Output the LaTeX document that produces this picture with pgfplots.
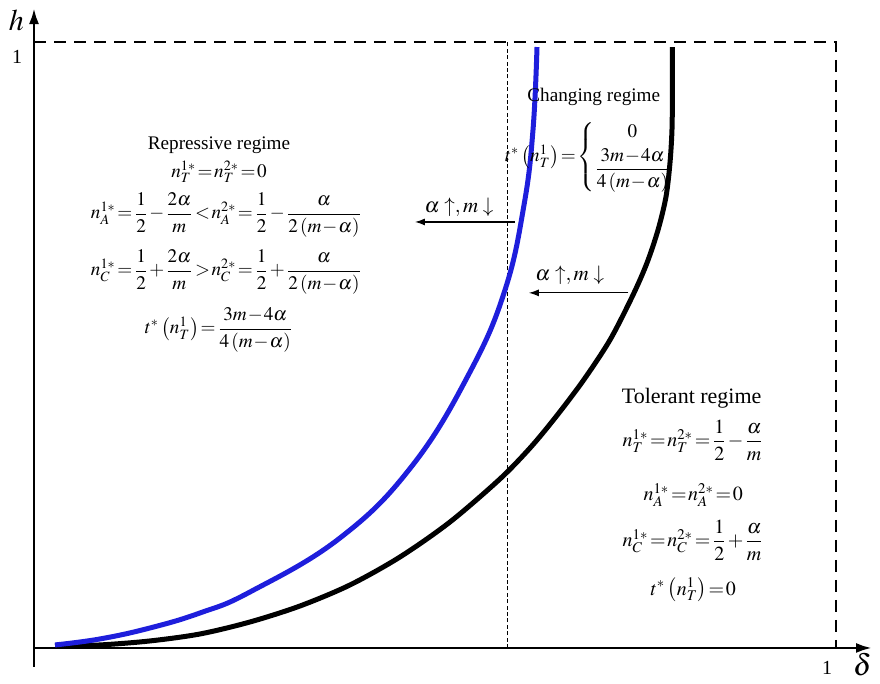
\documentclass[border=0pt]{standalone}
\usepackage{amsmath}
\usepackage{mathptmx}
\usepackage[no-math]{fontspec}
\setmainfont{Liberation Serif}
\usepackage{pgfplots}
\pgfplotsset{compat=1.18}
\usetikzlibrary{arrows.meta}
\definecolor{curveblue}{RGB}{30,30,220}
% tighter math spacing, closer to the equation editor look
\newcommand\tight{\thickmuskip=1.5mu\medmuskip=1mu}

\begin{document}
\begin{tikzpicture}
\begin{axis}[
  x=401pt, y=303pt,
  xmin=-0.0424, xmax=1.0549,
  ymin=-0.0512, ymax=1.0693,
  axis lines=none,
  clip=false,
]
\path (rel axis cs:0,0) rectangle (rel axis cs:1,1);

% bounds h=1 and delta=1, and the dotted reference line
\draw[line width=1.3pt, dash pattern=on 6pt off 4pt]
  (axis cs:0,1) -- (axis cs:1,1) -- (axis cs:1,0);
\draw[line width=0.5pt, dash pattern=on 2pt off 1.2pt]
  (axis cs:0.591,0) -- (axis cs:0.591,1);

% axes
\draw[line width=1.4pt, -{Latex[length=8pt,width=5pt]}]
  (axis cs:0,-0.031) -- (axis cs:0,1.056);
\draw[line width=1.4pt, -{Latex[length=8pt,width=5pt]}]
  (axis cs:0,0) -- (axis cs:1.045,0);
\node[font=\fontsize{10}{12}\selectfont] at (axis cs:-0.021,0.975) {1};
\node[font=\fontsize{10}{12}\selectfont] at (axis cs:0.989,-0.033) {1};
\node[font=\fontsize{15}{18}\selectfont] at (axis cs:-0.022,1.036) {$h$};
\node[font=\fontsize{15}{18}\selectfont] at (axis cs:1.033,-0.028) {$\delta$};

% thresholds
\addplot[black, line width=2.5pt, smooth] coordinates {
  (0.0262,0.0033) (0.0823,0.0050) (0.1446,0.0116) (0.2070,0.0231)
  (0.2693,0.0429) (0.3317,0.0693) (0.3940,0.1040) (0.4564,0.1502)
  (0.5187,0.2079) (0.5810,0.2789) (0.6185,0.3300) (0.6496,0.3795)
  (0.6845,0.4406) (0.7182,0.5083) (0.7469,0.5825) (0.7643,0.6353)
  (0.7781,0.6898) (0.7880,0.7442) (0.7930,0.8003) (0.7955,0.8548)
  (0.7961,0.9208) (0.7961,0.9917)
};
\addplot[curveblue, line width=2.5pt, smooth, tension=0.7] coordinates {
  (0.0262,0.0050) (0.0823,0.0149) (0.1446,0.0330) (0.2070,0.0578)
  (0.2693,0.0924) (0.3815,0.1815) (0.4713,0.3003) (0.5436,0.4554)
  (0.5873,0.5908) (0.6110,0.7310) (0.6222,0.8548) (0.6272,0.9917)
};

% shift arrows
\draw[line width=0.6pt, -{Latex[length=5pt,width=3.5pt]}]
  (axis cs:0.600,0.703) -- (axis cs:0.475,0.703);
\node[font=\fontsize{10.5}{13}\selectfont] at (axis cs:0.530,0.728) {$\alpha\uparrow,m\downarrow$};
\draw[line width=0.6pt, -{Latex[length=5pt,width=3.5pt]}]
  (axis cs:0.741,0.586) -- (axis cs:0.617,0.586);
\node[font=\fontsize{10.5}{13}\selectfont] at (axis cs:0.668,0.615) {$\alpha\uparrow,m\downarrow$};

% repressive regime
\begin{scope}[every node/.style={font=\fontsize{9.6}{11.5}\selectfont\tight}]
\node at (axis cs:0.2307,0.830) {Repressive regime};
\node at (axis cs:0.2307,0.7855) {$n_T^{1*}=n_T^{2*}=0$};
\node at (axis cs:0.2400,0.7145) {$n_A^{1*}=\dfrac{1}{2}-\dfrac{2\alpha}{m}<n_A^{2*}=\dfrac{1}{2}-\dfrac{\alpha}{2\left(m-\alpha\right)}$};
\node at (axis cs:0.2400,0.6205) {$n_C^{1*}=\dfrac{1}{2}+\dfrac{2\alpha}{m}>n_C^{2*}=\dfrac{1}{2}+\dfrac{\alpha}{2\left(m-\alpha\right)}$};
\node at (axis cs:0.2307,0.5248) {$t^{*}\left(n_T^{1}\right)=\dfrac{3m-4\alpha}{4\left(m-\alpha\right)}$};
\end{scope}

% changing regime
\begin{scope}[every node/.style={font=\fontsize{9.6}{11.5}\selectfont\tight}]
\node at (axis cs:0.698,0.909) {Changing regime};
\node at (axis cs:0.692,0.810) {$t^{*}\left(n_T^{1}\right)=\left\{\begin{array}{@{}c@{}}0\\[2pt]\dfrac{3m-4\alpha}{4\left(m-\alpha\right)}\end{array}\right.$};
\end{scope}

% tolerant regime
\begin{scope}[every node/.style={font=\fontsize{10}{12}\selectfont\tight}]
\node at (axis cs:0.820,0.4125) {\fontsize{11}{13}\selectfont Tolerant regime};
\node at (axis cs:0.822,0.343) {$n_T^{1*}=n_T^{2*}=\dfrac{1}{2}-\dfrac{\alpha}{m}$};
\node at (axis cs:0.822,0.2525) {$n_A^{1*}=n_A^{2*}=0$};
\node at (axis cs:0.822,0.178) {$n_C^{1*}=n_C^{2*}=\dfrac{1}{2}+\dfrac{\alpha}{m}$};
\node at (axis cs:0.822,0.0957) {$t^{*}\left(n_T^{1}\right)=0$};
\end{scope}
\end{axis}
\end{tikzpicture}
\end{document}
